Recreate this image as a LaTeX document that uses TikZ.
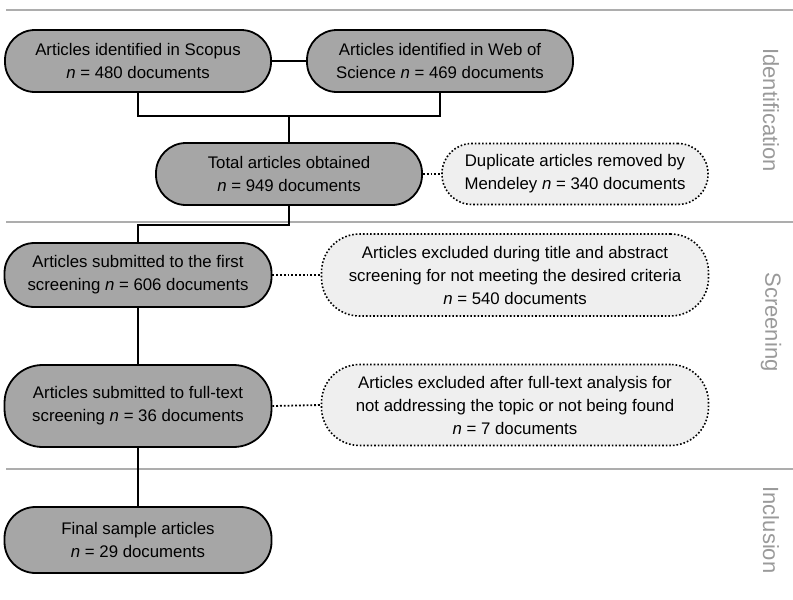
\documentclass[tikz,border=0pt]{standalone}
\usepackage{fontspec}
\setmainfont{Liberation Sans}
\usetikzlibrary{positioning}
\definecolor{boxgray}{HTML}{A6A6A6}
\definecolor{lightbox}{HTML}{EFEFEF}
\definecolor{rulegray}{HTML}{ADADAD}
\definecolor{labelgray}{HTML}{9A9A9A}
\begin{document}
\begin{tikzpicture}[x=1pt,y=-1pt,
  mainbox/.style={draw=black, line width=1.8pt, fill=boxgray, rounded corners=30pt,
    align=center, inner sep=0pt, font=\fontsize{16.8}{23}\selectfont},
  sidebox/.style={draw=black, line width=1.6pt, dotted, fill=lightbox, rounded corners=30pt,
    align=center, inner sep=0pt, font=\fontsize{16.8}{23}\selectfont},
  link/.style={draw=black, line width=1.8pt},
  dotlink/.style={draw=black, line width=1.8pt, dotted},
  sep/.style={draw=rulegray, line width=2.2pt},
  phase/.style={text=labelgray, rotate=-90, font=\fontsize{22}{24}\selectfont}
]
\useasboundingbox (0,0) rectangle (793,600);
\fill[white] (0,0) rectangle (793,600);

% separators
\draw[sep] (6,10) -- (793,10);
\draw[sep] (6,222) -- (793,222);
\draw[sep] (6,469) -- (793,469);

% phase labels
\node[phase] (lid) at (771,110) {Identification};
\node[phase] (lsc) at (771,322) {Screening};
\node[phase] (lin) at (771,530) {Inclusion};

% nodes
\node[mainbox, minimum width=266pt, minimum height=62pt] (A) at (138,61)
  {Articles identified in Scopus\\\textit{n} = 480 documents};
\node[mainbox, minimum width=266pt, minimum height=62pt] (B) at (440,61)
  {Articles identified in Web of\\Science \textit{n} = 469 documents};
\node[mainbox, minimum width=266pt, minimum height=62pt] (C) at (289,174)
  {Total articles obtained\\\textit{n} = 949 documents};
\node[sidebox, minimum width=266pt, minimum height=61pt] (D) at (575,174)
  {Duplicate articles removed by\\Mendeley \textit{n} = 340 documents};
\node[mainbox, minimum width=267pt, minimum height=64pt] (E) at (138,275)
  {Articles submitted to the first\\screening \textit{n} = 606 documents};
\node[sidebox, minimum width=387pt, minimum height=82pt, rounded corners=38pt] (F) at (515,275)
  {Articles excluded during title and abstract\\screening for not meeting the desired criteria\\\textit{n} = 540 documents};
\node[mainbox, minimum width=267pt, minimum height=82pt, rounded corners=38pt] (G) at (138,406)
  {Articles submitted to full-text\\screening \textit{n} = 36 documents};
\node[sidebox, minimum width=387pt, minimum height=81pt, rounded corners=38pt] (H) at (515,405)
  {Articles excluded after full-text analysis for\\not addressing the topic or not being found\\\textit{n} = 7 documents};
\node[mainbox, minimum width=267pt, minimum height=66pt, rounded corners=31pt] (I) at (138,540)
  {Final sample articles\\\textit{n} = 29 documents};

% connectors
\coordinate (j1) at (289,116);
\coordinate (j2) at (138,225);
\draw[link] (A.east) -- (B.west);
\draw[link] (A.south) |- (j1) -| (B.south);
\draw[link] (j1) -- (C.north);
\draw[link] (C.south) |- (j2) -- (E.north);
\draw[link] (E.south) -- (G.north);
\draw[link] (G.south) -- (I.north);
\draw[dotlink] (C.east) -- (D.west);
\draw[dotlink] (E.east) -- (F.west);
\draw[dotlink] (G.east) -- (H.west);
\end{tikzpicture}
\end{document}
